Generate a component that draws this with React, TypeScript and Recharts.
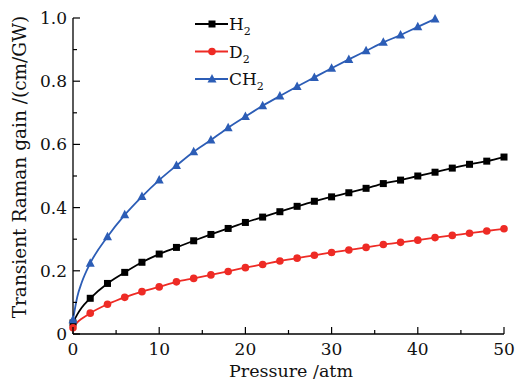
import React from 'react';
import { LineChart, Line, XAxis, YAxis, Label } from 'recharts';

// pressure (atm) and transient Raman gain (cm/GW)
const pressure = [0, 0.5, 1, 2, 4, 6, 8, 10, 12, 14, 16, 18, 20, 22, 24, 26, 28, 30, 32, 34, 36, 38, 40, 42, 44, 46, 48, 50];
const h2 = [0.035, 0.062, 0.083, 0.113, 0.16, 0.195, 0.227, 0.253, 0.274, 0.295, 0.315, 0.334, 0.353, 0.37, 0.387, 0.404, 0.42, 0.434, 0.447, 0.461, 0.476, 0.487, 0.5, 0.512, 0.525, 0.537, 0.547, 0.56];
const d2 = [0.02, 0.037, 0.048, 0.066, 0.094, 0.116, 0.134, 0.149, 0.165, 0.176, 0.187, 0.198, 0.21, 0.22, 0.231, 0.24, 0.249, 0.258, 0.266, 0.274, 0.283, 0.29, 0.297, 0.305, 0.312, 0.319, 0.326, 0.333];
const ch2 = [0.045, 0.118, 0.162, 0.224, 0.308, 0.377, 0.435, 0.487, 0.533, 0.577, 0.614, 0.653, 0.688, 0.722, 0.753, 0.783, 0.812, 0.841, 0.869, 0.896, 0.923, 0.946, 0.972, 0.997, null, null, null, null];

const xTicks = [0, 5, 10, 15, 20, 25, 30, 35, 40, 45, 50];
const xLabels = [0, 10, 20, 30, 40, 50];
const yTicks = [0, 0.1, 0.2, 0.3, 0.4, 0.5, 0.6, 0.7, 0.8, 0.9, 1.0];
const yLabels: Record<string, string> = { '0': '0', '0.2': '0.2', '0.4': '0.4', '0.6': '0.6', '0.8': '0.8', '1': '1.0' };

const data = pressure.map((p, i) => ({ p, h2: h2[i], d2: d2[i], ch2: ch2[i] }));

const FONT = '"DejaVu Serif", serif';
const LEFT = 73;
const BOTTOM = 334;

const isMarked = (p: number) => Number.isInteger(p) && p % 2 === 0;

const squareDot = (props: any) => {
  const { cx, cy, payload, index } = props;
  if (!isMarked(payload.p) || cy == null) return <g key={`s${index}`} />;
  return <rect key={`s${index}`} x={cx - 3.5} y={cy - 3.5} width={7} height={7} fill="#000" />;
};

const circleDot = (props: any) => {
  const { cx, cy, payload, index } = props;
  if (!isMarked(payload.p) || cy == null) return <g key={`c${index}`} />;
  return <circle key={`c${index}`} cx={cx} cy={cy} r={3.8} fill="#ee2b25" />;
};

const triDot = (props: any) => {
  const { cx, cy, payload, index } = props;
  if (!isMarked(payload.p) || cy == null) return <g key={`t${index}`} />;
  return <path key={`t${index}`} d={`M${cx},${cy - 5} L${cx + 4.5},${cy + 3.5} L${cx - 4.5},${cy + 3.5} Z`} fill="#2c5db6" />;
};

const XTick = (props: any) => {
  const { x, payload } = props;
  const major = xLabels.includes(payload.value);
  return (
    <g>
      <line x1={x} x2={x} y1={BOTTOM} y2={BOTTOM - (major ? 7 : 4)} stroke="#000" strokeWidth={1.2} />
      {major && (
        <text x={x} y={355} textAnchor="middle" fontFamily={FONT} fontSize={17} fill="#111">
          {payload.value}
        </text>
      )}
    </g>
  );
};

const YTick = (props: any) => {
  const { y, payload } = props;
  const key = String(Math.round(payload.value * 10) / 10);
  const label = yLabels[key];
  return (
    <g>
      <line x1={LEFT} x2={LEFT + (label ? 7 : 4)} y1={y} y2={y} stroke="#000" strokeWidth={1.2} />
      {label && (
        <text x={67} y={y + 6} textAnchor="end" fontFamily={FONT} fontSize={17} fill="#111">
          {label}
        </text>
      )}
    </g>
  );
};

const legendItems = [
  { name: 'H', sub: '2', color: '#000', shape: 'square' },
  { name: 'D', sub: '2', color: '#ee2b25', shape: 'circle' },
  { name: 'CH', sub: '2', color: '#2c5db6', shape: 'tri' },
];

const LegendBox = () => (
  <svg width={90} height={80} style={{ position: 'absolute', left: 194, top: 14 }}>
    {legendItems.map((it, i) => {
      const cy = 10 + i * 27.5;
      const cx = 18;
      return (
        <g key={it.name}>
          <line x1={1} x2={34} y1={cy} y2={cy} stroke={it.color} strokeWidth={1.8} />
          {it.shape === 'square' && <rect x={cx - 3.5} y={cy - 3.5} width={7} height={7} fill={it.color} />}
          {it.shape === 'circle' && <circle cx={cx} cy={cy} r={3.8} fill={it.color} />}
          {it.shape === 'tri' && <path d={`M${cx},${cy - 5} L${cx + 4.5},${cy + 3.5} L${cx - 4.5},${cy + 3.5} Z`} fill={it.color} />}
          <text x={35} y={cy + 6} fontFamily={FONT} fontSize={17} fill="#111">
            {it.name}
            <tspan fontSize={11} dy={5}>{it.sub}</tspan>
          </text>
        </g>
      );
    })}
  </svg>
);

export default function App() {
  return (
    <div style={{ position: 'absolute', left: 0, top: 0, width: 518, height: 381, background: '#fff' }}>
      <LineChart width={518} height={381} data={data} margin={{ top: 18, right: 14, bottom: 0, left: 0 }}>
        <XAxis
          dataKey="p"
          type="number"
          domain={[0, 50]}
          ticks={xTicks}
          interval={0}
          tick={<XTick />}
          tickLine={false}
          height={47}
          axisLine={{ stroke: '#000', strokeWidth: 1.3 }}
        >
          <Label
            content={() => (
              <text x={291} y={377} textAnchor="middle" fontFamily={FONT} fontSize={17.5} fill="#111">
                Pressure /atm
              </text>
            )}
          />
        </XAxis>
        <YAxis
          type="number"
          domain={[0, 1]}
          ticks={yTicks}
          interval={0}
          tick={<YTick />}
          tickLine={false}
          width={73}
          axisLine={{ stroke: '#000', strokeWidth: 1.3 }}
        >
          <Label
            content={() => (
              <text
                x={21}
                y={167}
                transform="rotate(-90 21 167)"
                textAnchor="middle"
                dominantBaseline="middle"
                fontFamily={FONT}
                fontSize={18.5}
                fill="#111"
              >
                Transient Raman gain /(cm/GW)
              </text>
            )}
          />
        </YAxis>
        <Line dataKey="h2" type="monotone" stroke="#000" strokeWidth={1.8} dot={squareDot} isAnimationActive={false} />
        <Line dataKey="d2" type="monotone" stroke="#ee2b25" strokeWidth={1.8} dot={circleDot} isAnimationActive={false} />
        <Line dataKey="ch2" type="monotone" stroke="#2c5db6" strokeWidth={1.8} dot={triDot} isAnimationActive={false} />
      </LineChart>
      <LegendBox />
    </div>
  );
}
